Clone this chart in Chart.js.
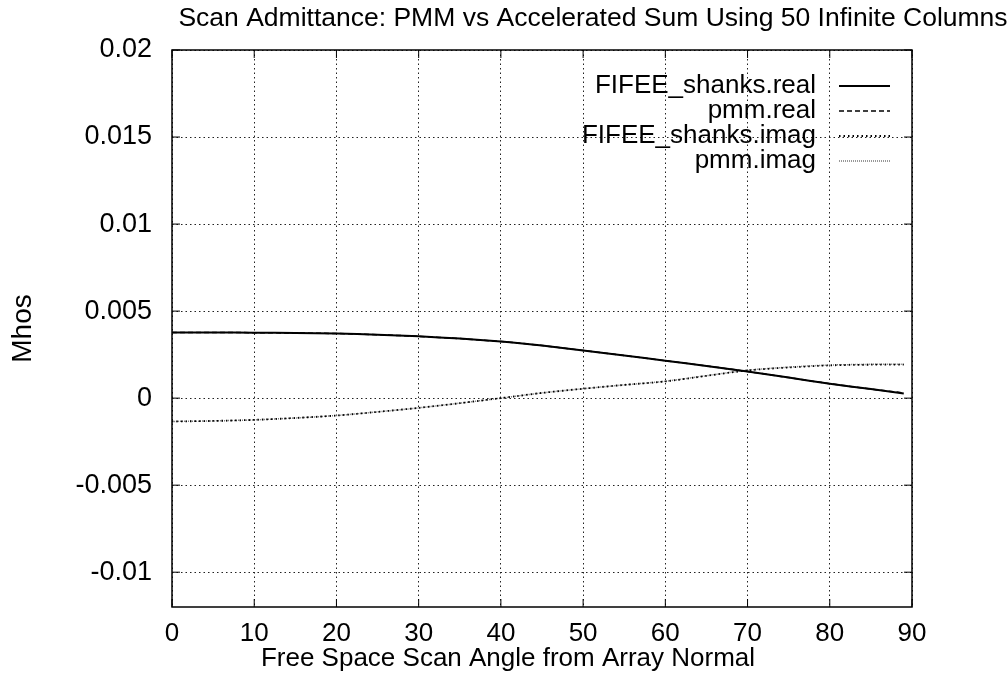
<!DOCTYPE html>
<html><head><meta charset="utf-8">
<script src="https://cdn.jsdelivr.net/npm/chart.js@4/dist/chart.umd.min.js"></script>
<style>html,body{margin:0;padding:0;background:#fff;}#wrap{width:1007px;height:678px;}</style>
</head><body><div id="wrap"><canvas id="c" width="1007" height="678"></canvas></div>
<script>
const angles = [0,5,10,15,20,25,30,35,40,42,45,50,55,60,65,70,75,80,85,89];
const shanksReal = [3.77,3.77,3.76,3.74,3.71,3.64,3.55,3.42,3.25,3.17,3.02,2.74,2.45,2.15,1.85,1.53,1.18,0.83,0.52,0.27];
const pmmReal    = [3.77,3.77,3.76,3.74,3.71,3.64,3.55,3.42,3.25,3.17,3.02,2.74,2.45,2.15,1.85,1.53,1.18,0.83,0.52,0.30];
const shanksImag = [-1.34,-1.31,-1.25,-1.14,-1.00,-0.79,-0.56,-0.29,0.00,0.12,0.30,0.54,0.76,0.96,1.28,1.59,1.76,1.88,1.92,1.92];
const pmmImag    = [-1.34,-1.31,-1.25,-1.14,-1.00,-0.79,-0.56,-0.29,0.00,0.12,0.30,0.54,0.76,0.97,1.29,1.60,1.78,1.90,1.94,1.94];
const yTicks = [-0.01,-0.005,0,0.005,0.01,0.015,0.02];
const xTicks = [0,10,20,30,40,50,60,70,80,90];
const seriesNames = ['FIFEE_shanks.real','pmm.real','FIFEE_shanks.imag','pmm.imag'];
const titleText = 'Scan Admittance: PMM vs Accelerated Sum Using 50 Infinite Columns';
const xTitle = 'Free Space Scan Angle from Array Normal';
const yTitle = 'Mhos';

const FONT = '"Liberation Sans", Arial, sans-serif';
const toPts = (arr) => angles.map((a,i)=>({x:a, y:arr[i]*1e-3}));
const styles = [
  {color:'#000', dash:[], width:2},
  {color:'#000', dash:[5,3], width:1.5},
  {color:'#000', dash:[1.5,3], width:1.8},
  {color:'#777', dash:[1,1], width:1.5}
];
const dataArrays = [shanksReal, pmmReal, shanksImag, pmmImag];

const framePlugin = {
  id:'frame',
  afterDraw(chart){
    const {ctx, chartArea:a, scales} = chart;
    ctx.save();
    ctx.strokeStyle = '#000'; ctx.lineWidth = 1.5; ctx.setLineDash([]);
    ctx.strokeRect(a.left, a.top, a.right-a.left, a.bottom-a.top);
    ctx.lineWidth = 1;
    const tl = 8;
    xTicks.forEach(v=>{const x = scales.x.getPixelForValue(v);
      ctx.beginPath(); ctx.moveTo(x,a.bottom); ctx.lineTo(x,a.bottom-tl); ctx.moveTo(x,a.top); ctx.lineTo(x,a.top+tl); ctx.stroke();});
    yTicks.forEach(v=>{const y = scales.y.getPixelForValue(v);
      ctx.beginPath(); ctx.moveTo(a.left,y); ctx.lineTo(a.left+tl,y); ctx.moveTo(a.right,y); ctx.lineTo(a.right-tl,y); ctx.stroke();});
    ctx.fillStyle = '#000';
    ctx.textAlign = 'center'; ctx.textBaseline = 'middle';
    ctx.font = '26.5px ' + FONT;
    ctx.fillText(titleText, 593, 19);
    ctx.font = '26px ' + FONT;
    ctx.fillText(xTitle, 508, 659);
    ctx.font = '26px ' + FONT;
    ctx.textAlign = 'right';
    seriesNames.forEach((n,i)=>{
      const y = 86 + i*25;
      ctx.fillStyle='#000';
      ctx.fillText(n, 816, y);
      const s = styles[i];
      ctx.strokeStyle = s.color; ctx.lineWidth = s.width; ctx.setLineDash(s.dash);
      ctx.beginPath(); ctx.moveTo(839, y); ctx.lineTo(890, y); ctx.stroke();
    });
    ctx.restore();
  }
};

new Chart(document.getElementById('c'), {
  type:'line',
  data:{
    datasets: seriesNames.map((n,i)=>({
      label:n, data: toPts(dataArrays[i]),
      borderColor: styles[i].color, borderWidth: styles[i].width, borderDash: styles[i].dash,
      pointRadius:0, tension:0.3, fill:false
    }))
  },
  options:{
    responsive:false, animation:false, devicePixelRatio:1,
    layout:{padding:{top:50,right:95,left:0,bottom:0}},
    plugins:{legend:{display:false}, title:{display:false}, tooltip:{enabled:false}},
    scales:{
      x:{type:'linear', min:0, max:90,
        afterBuildTicks(s){ s.ticks = xTicks.map(v=>({value:v})); },
        afterFit(s){ s.height = 71; },
        grid:{color:'#222', lineWidth:1, drawTicks:false},
        border:{display:false, dash:[1.5,3]},
        ticks:{color:'#000', font:{family:FONT, size:26}, padding:11, maxRotation:0},
        title:{display:false}
      },
      y:{type:'linear', min:-0.012, max:0.02,
        afterBuildTicks(s){ s.ticks = yTicks.map(v=>({value:v})); },
        afterFit(s){ s.width = 172; },
        grid:{color:'#222', lineWidth:1, drawTicks:false},
        border:{display:false, dash:[1.5,3]},
        ticks:{color:'#000', font:{family:FONT, size:27}, padding:20, callback:(v)=>String(+v.toFixed(3))},
        title:{display:true, text:yTitle, color:'#000', font:{family:FONT, size:28}, padding:{top:6,bottom:0}}
      }
    }
  },
  plugins:[framePlugin]
});
</script></body></html>
